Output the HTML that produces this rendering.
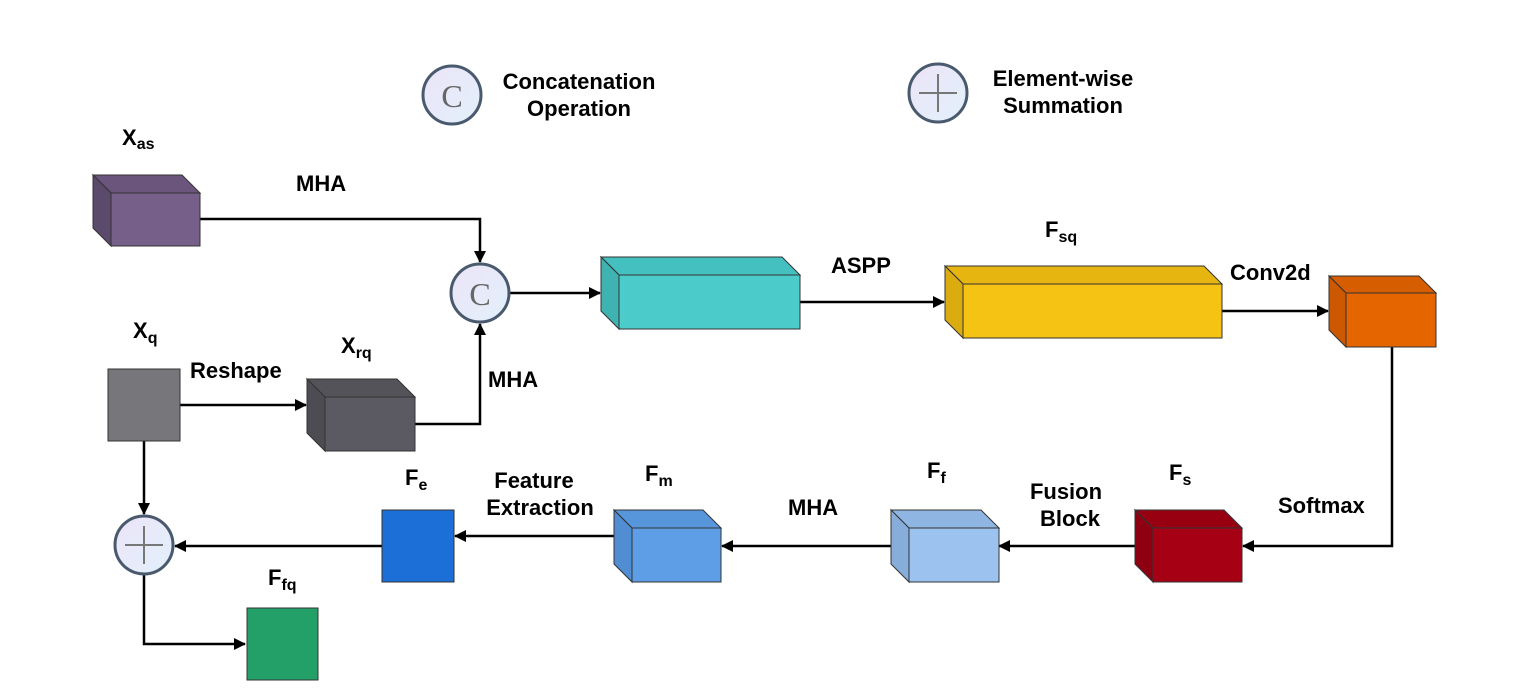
<!DOCTYPE html>
<html><head><meta charset="utf-8"><style>
html,body{margin:0;padding:0;background:#fff;}
svg{display:block;}
text{font-family:"Liberation Sans",Arial,sans-serif;font-weight:bold;fill:#000;}
</style></head><body>
<svg width="1537" height="698" viewBox="0 0 1537 698" xmlns="http://www.w3.org/2000/svg">
<defs>
<marker id="ah" markerWidth="12" markerHeight="12" refX="11" refY="6" orient="auto" markerUnits="userSpaceOnUse">
<path d="M0,0 L12,6 L0,12 Z" fill="#000"/></marker>
<linearGradient id="cg" x1="0" y1="0" x2="1" y2="1"><stop offset="0" stop-color="#ece4f8"/><stop offset="1" stop-color="#e2f0fb"/></linearGradient>
</defs>
<g stroke="#000" stroke-width="2.5" fill="none">
<polyline points="200,219 480,219 480,262" marker-end="url(#ah)"/>
<polyline points="415,424 480,424 480,324" marker-end="url(#ah)"/>
<polyline points="180,405 306,405" marker-end="url(#ah)"/>
<polyline points="510,293 600,293" marker-end="url(#ah)"/>
<polyline points="800,302 944,302" marker-end="url(#ah)"/>
<polyline points="1222,311 1328,311" marker-end="url(#ah)"/>
<polyline points="1392,347 1392,546 1243,546" marker-end="url(#ah)"/>
<polyline points="1135,546 999,546" marker-end="url(#ah)"/>
<polyline points="891,546 722,546" marker-end="url(#ah)"/>
<polyline points="614,536 455,536" marker-end="url(#ah)"/>
<polyline points="382,546 175,546" marker-end="url(#ah)"/>
<polyline points="144,441 144,514" marker-end="url(#ah)"/>
<polyline points="144,575 144,644 245,644" marker-end="url(#ah)"/>
</g>
<g stroke="#333" stroke-width="1">
<polygon points="93,175 182,175 200,193 111,193" fill="#6b557d"/>
<polygon points="93,175 111,193 111,246 93,228" fill="#5c4a6d"/>
<rect x="111" y="193" width="89" height="53" fill="#765f88"/>
<polygon points="601,257 782,257 800,275 619,275" fill="#45c0c0"/>
<polygon points="601,257 619,275 619,329 601,311" fill="#3fb2b2"/>
<rect x="619" y="275" width="181" height="54" fill="#4ccbcb"/>
<polygon points="945,266 1204,266 1222,284 963,284" fill="#e6b510"/>
<polygon points="945,266 963,284 963,338 945,320" fill="#dbac10"/>
<rect x="963" y="284" width="259" height="54" fill="#f4c313"/>
<polygon points="1329,276 1419,276 1436,293 1346,293" fill="#d65d00"/>
<polygon points="1329,276 1346,293 1346,347 1329,330" fill="#cc5800"/>
<rect x="1346" y="293" width="90" height="54" fill="#e56500"/>
<rect x="108" y="369" width="72" height="72" fill="#77767a"/>
<polygon points="307,379 397,379 415,397 325,397" fill="#54535a"/>
<polygon points="307,379 325,397 325,451 307,433" fill="#4d4c53"/>
<rect x="325" y="397" width="90" height="54" fill="#5b5a62"/>
<polygon points="1135,510 1224,510 1242,528 1153,528" fill="#980012"/>
<polygon points="1135,510 1153,528 1153,582 1135,564" fill="#8e0011"/>
<rect x="1153" y="528" width="89" height="54" fill="#a50014"/>
<polygon points="891,510 981,510 999,528 909,528" fill="#8fb6e2"/>
<polygon points="891,510 909,528 909,582 891,564" fill="#87aedb"/>
<rect x="909" y="528" width="90" height="54" fill="#9cc3ef"/>
<polygon points="614,510 703,510 721,528 632,528" fill="#5896dc"/>
<polygon points="614,510 632,528 632,582 614,564" fill="#518dd2"/>
<rect x="632" y="528" width="89" height="54" fill="#5e9ee6"/>
<rect x="382" y="510" width="72" height="72" fill="#1b6fd6"/>
<rect x="247" y="608" width="71" height="72" fill="#23a068"/>
</g>
<g stroke="#4a5a6e" stroke-width="3" fill="url(#cg)">
<circle cx="480" cy="293" r="29"/>
<circle cx="144" cy="545" r="29"/>
<circle cx="452" cy="95" r="29"/>
<circle cx="938" cy="93" r="29"/>
</g>
<g stroke="#777" stroke-width="2">
<line x1="125" y1="545" x2="163" y2="545"/><line x1="144" y1="526" x2="144" y2="564"/>
<line x1="919" y1="93" x2="957" y2="93"/><line x1="938" y1="74" x2="938" y2="112"/>
</g>
<text x="480" y="305" text-anchor="middle" style="font-family:'Liberation Serif',serif;font-weight:normal;font-size:32px;fill:#666">C</text>
<text x="452" y="107" text-anchor="middle" style="font-family:'Liberation Serif',serif;font-weight:normal;font-size:32px;fill:#666">C</text>
<g font-size="22">
<text x="579" y="89" text-anchor="middle">Concatenation</text>
<text x="579" y="116" text-anchor="middle">Operation</text>
<text x="1063" y="86" text-anchor="middle">Element-wise</text>
<text x="1063" y="113" text-anchor="middle">Summation</text>
<text x="296" y="191">MHA</text>
<text x="488" y="387">MHA</text>
<text x="831" y="273">ASPP</text>
<text x="1230" y="280">Conv2d</text>
<text x="190" y="378">Reshape</text>
<text x="1278" y="513">Softmax</text>
<text x="788" y="515">MHA</text>
<text x="1066" y="499" text-anchor="middle">Fusion</text>
<text x="1070" y="526" text-anchor="middle">Block</text>
<text x="534" y="488" text-anchor="middle">Feature</text>
<text x="540" y="515" text-anchor="middle">Extraction</text>
<text x="122" y="145">X<tspan font-size="16" dy="4">as</tspan></text>
<text x="133" y="338">X<tspan font-size="16" dy="5">q</tspan></text>
<text x="341" y="353">X<tspan font-size="16" dy="5">rq</tspan></text>
<text x="1045" y="237">F<tspan font-size="16" dy="5">sq</tspan></text>
<text x="1169" y="480">F<tspan font-size="16" dy="5">s</tspan></text>
<text x="927" y="478">F<tspan font-size="16" dy="5">f</tspan></text>
<text x="645" y="481">F<tspan font-size="16" dy="5">m</tspan></text>
<text x="405" y="485">F<tspan font-size="16" dy="5">e</tspan></text>
<text x="268" y="585">F<tspan font-size="16" dy="5">fq</tspan></text>
</g>
</svg>
</body></html>
